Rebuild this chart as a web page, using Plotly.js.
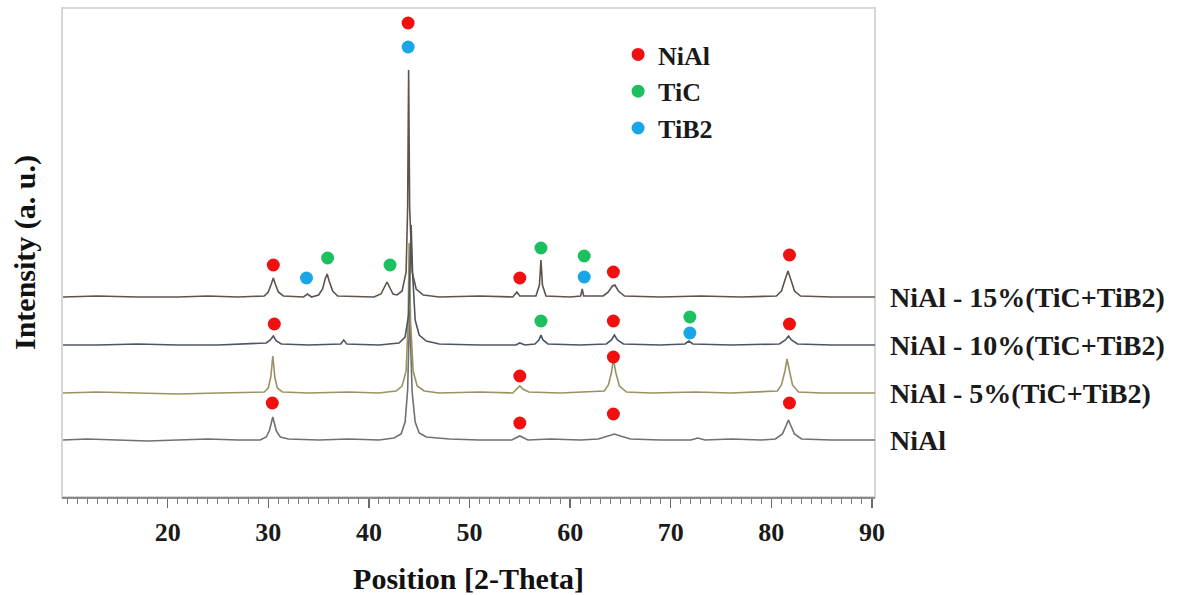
<!DOCTYPE html>
<html>
<head>
<meta charset="utf-8">
<script src="https://cdn.plot.ly/plotly-3.0.1.min.js"></script>
<style>html,body{margin:0;padding:0;background:#fff;}#chart{width:1181px;height:595px;}</style>
</head>
<body>
<div id="chart"></div>
<script>
// ---- Data (2-theta, relative intensity above each pattern's own baseline) ----
const seriesNames = ["NiAl", "NiAl - 5%(TiC+TiB2)", "NiAl - 10%(TiC+TiB2)", "NiAl - 15%(TiC+TiB2)"];
const stackOffsets = [0, 47, 95, 143];

const pattern_NiAl = [[9.6,0],[12,1],[15,0],[18,-1],[21,0],[24,1],[27,0],[29.2,0],[29.8,3],[30.1,9],[30.3,17],[30.45,23],[30.6,17],[30.8,9],[31.2,3],[32,1],[35,0],[38,1],[41,0],[42.5,2],[43.2,6],[43.6,18],[43.85,50],[43.95,95],[44.05,130],[44.15,95],[44.3,48],[44.6,18],[45.0,7],[45.7,3],[48,1],[51,0],[54.2,0],[55.0,4],[55.8,0],[58,1],[61,0],[62.8,1],[63.8,4],[64.4,6],[65.0,4],[66.0,1],[69,0],[72.0,0],[72.7,2],[73.4,0],[76,1],[79,0],[80.4,1],[81.1,6],[81.45,14],[81.7,20],[81.95,14],[82.3,6],[83,1],[86,0],[90.3,0]];

const pattern_5pct = [[9.6,0],[13,1],[17,0],[21,-1],[25,0],[28,1],[29.6,1],[30.0,5],[30.25,16],[30.45,37],[30.65,16],[30.9,5],[31.4,1],[34,0],[38,1],[41,0],[42.7,2],[43.3,7],[43.7,22],[43.9,70],[44.0,150],[44.15,70],[44.4,22],[44.8,7],[45.5,2],[47,0],[51,1],[54.3,0],[54.8,5],[55.0,7],[55.3,4],[55.9,1],[59,0],[62,1],[63.4,2],[63.8,8],[64.1,20],[64.3,34],[64.55,20],[64.9,7],[65.6,1],[68,0],[72.5,1],[76,0],[79,1],[80.6,2],[81.0,8],[81.35,22],[81.55,34],[81.8,22],[82.1,8],[82.7,1],[85,0],[90.3,0]];

const pattern_10pct = [[9.6,0],[13,0],[17,1],[21,0],[25,0],[28,1],[29.8,2],[30.2,5],[30.5,9],[30.8,4],[31.3,1],[34,0],[37.2,1],[37.5,5],[37.8,1],[41,0],[43.0,2],[43.6,8],[43.95,30],[44.1,80],[44.2,120],[44.35,70],[44.6,25],[45.0,10],[45.7,4],[47,1],[51,0],[54.6,0],[55.0,2],[55.5,0],[56.5,1],[56.9,5],[57.1,10],[57.3,5],[57.8,1],[61,0],[63.6,1],[64.1,5],[64.4,10],[64.7,5],[65.3,1],[69,0],[71.4,1],[71.8,4],[72.2,1],[76,0],[80.8,1],[81.4,5],[81.7,9],[82.0,5],[82.6,1],[86,0],[90.3,0]];

const pattern_15pct = [[9.6,0],[13,1],[17,0],[21,0],[24,1],[27,0],[29.6,1],[30.0,5],[30.3,13],[30.5,19],[30.7,13],[31.0,5],[31.5,1],[33.5,0],[33.9,3],[34.3,0],[35.0,2],[35.4,8],[35.65,18],[35.85,23],[36.05,16],[36.4,6],[36.9,1],[40.5,0],[41.2,3],[41.55,10],[41.8,15],[42.05,10],[42.4,3],[42.8,2],[43.3,6],[43.7,25],[43.85,90],[43.95,227],[44.05,90],[44.3,25],[44.7,8],[45.4,2],[47,0],[51,1],[54.3,0],[54.7,5],[55.0,1],[56.6,1],[56.95,12],[57.1,37],[57.25,12],[57.6,1],[60,0],[61.05,1],[61.2,8],[61.35,1],[63.3,1],[63.8,5],[64.2,11],[64.45,12],[64.8,6],[65.4,1],[69,0],[73,1],[77,0],[80.5,1],[81.0,6],[81.35,17],[81.65,26],[81.95,17],[82.3,6],[82.9,1],[86,0],[90.3,0]];

// phase identification markers (2-theta, plotted height)
const phaseNames = ["NiAl", "TiC", "TiB2"];
const nialMarkX = [43.9, 30.5, 55.0, 64.3, 81.8, 30.6, 64.3, 81.8, 55.0, 64.3, 30.4, 55.0, 64.3, 81.8];
const nialMarkY = [417, 175, 162, 168, 185, 116, 119, 116, 64, 83, 37, 17, 26, 37];
const ticMarkX = [35.9, 42.1, 57.1, 61.4, 57.1, 71.9];
const ticMarkY = [182, 175, 192, 184, 119, 123];
const tib2MarkX = [43.9, 33.8, 61.4, 71.9];
const tib2MarkY = [393, 162, 163, 107];

const xTickVals = [20, 30, 40, 50, 60, 70, 80, 90];

// ---- Styling ----
const FONT = "'Liberation Serif', 'Times New Roman', serif";
const lineColors = ["#707070", "#9a9262", "#4c5662", "#5f534c"];
const phaseColors = ["#f01010", "#1cc05e", "#1aa6e6"];
const patterns = [pattern_NiAl, pattern_5pct, pattern_10pct, pattern_15pct];

const traces = [];
patterns.forEach((p, i) => {
  traces.push({
    type: "scatter", mode: "lines", name: seriesNames[i], showlegend: false,
    x: p.map(d => d[0]), y: p.map(d => d[1] + stackOffsets[i]),
    line: {color: lineColors[i], width: 1.6}, hoverinfo: "skip"
  });
});
[[nialMarkX, nialMarkY], [ticMarkX, ticMarkY], [tib2MarkX, tib2MarkY]].forEach((m, k) => {
  traces.push({
    type: "scatter", mode: "markers", name: "<b>" + phaseNames[k] + "</b>",
    x: m[0], y: m[1], marker: {color: phaseColors[k], size: 13}, showlegend: true
  });
});

const annotations = seriesNames.map((n, i) => ({
  xref: "paper", yref: "y", x: 1, y: stackOffsets[i], xanchor: "left", yanchor: "middle",
  xshift: 13, text: "<b>" + n + "</b>", showarrow: false,
  font: {family: FONT, size: 28, color: "#1a1a1a"}
}));

const layout = {
  width: 1181, height: 595,
  margin: {l: 62, r: 306, t: 8, b: 98},
  paper_bgcolor: "#ffffff", plot_bgcolor: "#ffffff",
  showlegend: true,
  legend: {x: 0.684, y: 0.953, xanchor: "left", yanchor: "top", bgcolor: "rgba(0,0,0,0)",
           font: {family: FONT, size: 26, color: "#1a1a1a"}, tracegroupgap: 0},
  xaxis: {
    range: [9.5, 90.3], tickmode: "array", tickvals: xTickVals,
    ticks: "outside", ticklen: 9, tickwidth: 1.5, tickcolor: "#6a6a6a",
    minor: {ticks: "outside", dtick: 1, tick0: 0, ticklen: 5, tickwidth: 1, tickcolor: "#7a7a7a"},
    showline: true, linecolor: "#8a8a8a", linewidth: 2,
    showgrid: false, zeroline: false, ticklabelstandoff: 2,
    tickfont: {family: FONT, size: 26, color: "#1a1a1a", weight: "bold"},
    title: {text: "<b>Position [2-Theta]</b>", font: {family: FONT, size: 30, color: "#111"}, standoff: 25}
  },
  yaxis: {
    range: [-57, 432], showticklabels: false, ticks: "", showgrid: false, zeroline: false, showline: false,
    title: {text: "<b>Intensity (a. u.)</b>", font: {family: FONT, size: 30, color: "#111"}, standoff: 16}
  },
  shapes: [{type: "rect", xref: "paper", yref: "paper", x0: 0, x1: 1, y0: 0, y1: 1,
            line: {color: "#d6d6d6", width: 2}, layer: "below"}],
  annotations: annotations
};

Plotly.newPlot("chart", traces, layout, {displayModeBar: false, staticPlot: true});
</script>
</body>
</html>
